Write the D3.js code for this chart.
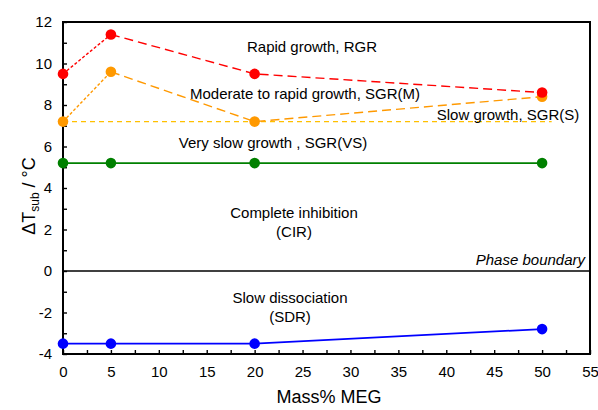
<!DOCTYPE html>
<html>
<head>
<meta charset="utf-8">
<script src="https://cdn.jsdelivr.net/npm/d3@7/dist/d3.min.js"></script>
<style>
  body { margin: 0; background: #fff; }
  text { font-family: "Liberation Sans", Arial, sans-serif; }
</style>
</head>
<body>
<div id="chart"></div>
<script>
// Data
const massMEG = [0, 5, 20, 50];
const rgr = [9.5, 11.4, 9.5, 8.6];        // rapid growth
const sgrM = [7.2, 9.6, 7.2, 8.4];        // moderate to rapid growth
const sgrVS = [5.2, 5.2, 5.2, 5.2];       // very slow growth
const sdr = [-3.5, -3.5, -3.5, -2.8];     // slow dissociation
const sgrSLineX = [0, 51];                // slow growth threshold line
const sgrSLineY = [7.2, 7.2];
const xTicks = [0, 5, 10, 15, 20, 25, 30, 35, 40, 45, 50, 55];
const yTicks = [-4, -2, 0, 2, 4, 6, 8, 10, 12];

const margin = { top: 22, right: 8, bottom: 56, left: 63 };
const width = 598 - margin.left - margin.right;
const height = 410 - margin.top - margin.bottom;

const svg = d3.select("#chart")
  .append("svg")
  .attr("width", 598)
  .attr("height", 410)
  .append("g")
  .attr("transform", `translate(${margin.left},${margin.top})`);

const x = d3.scaleLinear().domain([0, 55]).range([0, width]);
const y = d3.scaleLinear().domain([-4, 12]).range([height, 0]);

// axes with inward ticks
const xAxis = d3.axisBottom(x).tickValues(d3.range(0, 55.1, 2.5)).tickSize(-4)
  .tickFormat(d => xTicks.includes(d) ? d : "").tickPadding(12);
const yAxis = d3.axisLeft(y).tickValues(d3.range(-4, 12.1, 1)).tickSize(-4)
  .tickFormat(d => yTicks.includes(d) ? d : "").tickPadding(11);

const gx = svg.append("g").attr("transform", `translate(0,${height})`).call(xAxis);
const gy = svg.append("g").call(yAxis);
[gx, gy].forEach(g => {
  g.select(".domain").remove();
  g.selectAll("line").attr("stroke", "#000").attr("stroke-width", 1.4);
  g.selectAll("text").attr("font-size", 15).attr("fill", "#000")
    .style("font-family", "Liberation Sans, Arial, sans-serif");
});

// frame
svg.append("rect")
  .attr("width", width).attr("height", height)
  .attr("fill", "none").attr("stroke", "#000").attr("stroke-width", 2);

// phase boundary
svg.append("line")
  .attr("x1", 0).attr("x2", width)
  .attr("y1", y(0)).attr("y2", y(0))
  .attr("stroke", "#000").attr("stroke-width", 1.4);

const pts = vals => massMEG.map((m, i) => [m, vals[i]]);
const line = d3.line().x(d => x(d[0])).y(d => y(d[1]));

// yellow slow-growth line
svg.append("path")
  .datum(sgrSLineX.map((v, i) => [v, sgrSLineY[i]]))
  .attr("d", line).attr("fill", "none")
  .attr("stroke", "#ffc000").attr("stroke-width", 1.4).attr("stroke-dasharray", "5,4");

function series(vals, color, dashed) {
  const p = pts(vals);
  if (dashed) {
    svg.append("path").datum(p.slice(0, 2)).attr("d", line).attr("fill", "none")
      .attr("stroke", color).attr("stroke-width", 1.4).attr("stroke-dasharray", "3,2");
    svg.append("path").datum(p.slice(1)).attr("d", line).attr("fill", "none")
      .attr("stroke", color).attr("stroke-width", 1.4).attr("stroke-dasharray", "9,5");
  } else {
    svg.append("path").datum(p).attr("d", line).attr("fill", "none")
      .attr("stroke", color).attr("stroke-width", 1.8);
  }
  svg.selectAll(null).data(p).enter().append("circle")
    .attr("cx", d => x(d[0])).attr("cy", d => y(d[1])).attr("r", 5.3)
    .attr("fill", color);
}

series(sgrM, "#ff9900", true);
series(rgr, "#ff0000", true);
series(sgrVS, "#008000", false);
series(sdr, "#0000ff", false);

// annotations
const notes = [
  { t: "Rapid growth, RGR", x: 312, y: 52, a: "middle" },
  { t: "Moderate to rapid growth, SGR(M)", x: 305, y: 99, a: "middle" },
  { t: "Slow growth, SGR(S)", x: 508, y: 120, a: "middle" },
  { t: "Very slow growth , SGR(VS)", x: 273, y: 148, a: "middle" },
  { t: "Complete inhibition", x: 294, y: 218, a: "middle" },
  { t: "(CIR)", x: 294, y: 237, a: "middle" },
  { t: "Slow dissociation", x: 290, y: 303, a: "middle" },
  { t: "(SDR)", x: 290, y: 322, a: "middle" }
];
const root = d3.select("svg");
root.selectAll(null).data(notes).enter().append("text")
  .attr("x", d => d.x).attr("y", d => d.y).attr("text-anchor", d => d.a)
  .attr("font-size", 15).text(d => d.t);

root.append("text").attr("x", 585).attr("y", 265).attr("text-anchor", "end")
  .attr("font-size", 15).attr("font-style", "italic").text("Phase boundary");

// axis titles
root.append("text").attr("x", 329).attr("y", 403).attr("text-anchor", "middle")
  .attr("font-size", 18).text("Mass% MEG");

const yt = root.append("text").attr("transform", "translate(35,196) rotate(-90)")
  .attr("text-anchor", "middle").attr("font-size", 18);
yt.append("tspan").text("ΔT");
yt.append("tspan").attr("font-size", 12).attr("dy", 4).text("sub");
yt.append("tspan").attr("dy", -4).text(" / °C");
</script>
</body>
</html>
